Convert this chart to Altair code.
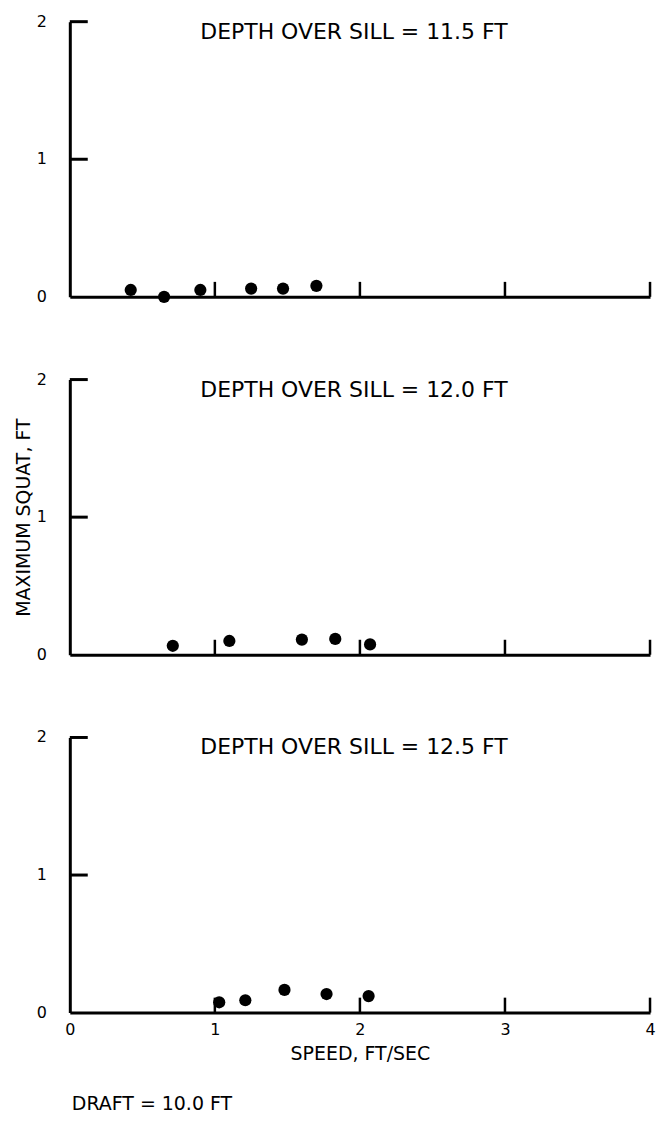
import altair as alt
import pandas as pd

# ---- data ----
panel_titles = ["DEPTH OVER SILL = 11.5 FT", "DEPTH OVER SILL = 12.0 FT", "DEPTH OVER SILL = 12.5 FT"]
speed_115 = [0.42, 0.65, 0.90, 1.25, 1.47, 1.70]
squat_115 = [0.05, 0.00, 0.05, 0.06, 0.06, 0.08]
speed_120 = [0.71, 1.10, 1.60, 1.83, 2.07]
squat_120 = [0.065, 0.10, 0.11, 0.115, 0.075]
speed_125 = [1.03, 1.21, 1.48, 1.77, 2.06]
squat_125 = [0.075, 0.09, 0.165, 0.135, 0.12]
x_ticks = [0, 1, 2, 3, 4]
y_ticks = [0, 1, 2]
y_tick_labels = ["0", "1", "2"]
x_title = "SPEED, FT/SEC"
y_title = "MAXIMUM SQUAT, FT"
note = "DRAFT = 10.0 FT"

W, H = 582, 276
FONT = "DejaVu Sans"
xscale = alt.Scale(domain=[0, 4], nice=False, zero=False)
yscale = alt.Scale(domain=[0, 2], nice=False, zero=False)


def panel(title, xs, ys, bottom=False, ytitle=False):
    pts = pd.DataFrame({"speed": xs, "squat": ys})
    xkw = dict(values=x_ticks, labelFlush=False, labels=bottom, labelPadding=9,
               titlePadding=7, format="d", grid=False, ticks=False,
               domainColor="black", domainWidth=3, labelOverlap=False,
               labelFont=FONT, labelFontSize=16, labelColor="black",
               titleFont=FONT, titleFontSize=19, titleColor="black", titleFontWeight="normal")
    xkw["title"] = x_title if bottom else ""
    ykw = dict(values=y_ticks, labels=False, titlePadding=36,
               grid=False, ticks=False, domainColor="black", domainWidth=3,
               titleFont=FONT, titleFontSize=19, titleColor="black", titleFontWeight="normal")
    ykw["title"] = y_title if ytitle else ""
    xaxis = alt.Axis(**xkw)
    yaxis = alt.Axis(**ykw)

    points = alt.Chart(pts).mark_circle(size=150, color="black", opacity=1).encode(
        x=alt.X("speed:Q", scale=xscale, axis=xaxis),
        y=alt.Y("squat:Q", scale=yscale, axis=yaxis),
    )
    yt = pd.DataFrame({"v": [v for v in y_ticks if v > 0]})
    ytick = alt.Chart(yt).mark_rule(color="black", strokeWidth=3).encode(
        y=alt.Y("v:Q", scale=yscale, axis=yaxis),
        x=alt.value(0), x2=alt.value(18),
    )
    yl = pd.DataFrame({"v": y_ticks, "lab": y_tick_labels})
    ylab = alt.Chart(yl).mark_text(font=FONT, fontSize=16, color="black",
                                   align="center", baseline="middle").encode(
        y=alt.Y("v:Q", scale=yscale, axis=yaxis),
        x=alt.value(-28), text="lab:N",
    )
    xt = pd.DataFrame({"v": [v for v in x_ticks if v > 0]})
    xtick = alt.Chart(xt).mark_rule(color="black", strokeWidth=2.5).encode(
        x=alt.X("v:Q", scale=xscale, axis=xaxis),
        y=alt.value(H), y2=alt.value(H - 15),
    )
    tt = pd.DataFrame({"t": [title]})
    ttxt = alt.Chart(tt).mark_text(font=FONT, fontSize=22, color="black",
                                   align="center", baseline="middle").encode(
        x=alt.value(W / 2 - 6), y=alt.value(10), text="t:N"
    )
    layers = [points, ytick, ylab, xtick, ttxt]
    if bottom:
        nt = pd.DataFrame({"t": [note]})
        layers.append(
            alt.Chart(nt).mark_text(font=FONT, fontSize=19, color="black",
                                    align="left", baseline="middle").encode(
                x=alt.value(2), y=alt.value(H + 92), text="t:N"
            )
        )
    return alt.layer(*layers).properties(width=W, height=H)


chart = alt.vconcat(
    panel(panel_titles[0], speed_115, squat_115),
    panel(panel_titles[1], speed_120, squat_120, ytitle=True),
    panel(panel_titles[2], speed_125, squat_125, bottom=True),
    spacing=67,
).properties(
    padding={"left": 7, "top": 4, "right": 0, "bottom": 4},
    background="white",
).configure_view(stroke=None)

chart.save("out.html", embed_options={"renderer": "svg", "actions": False})
